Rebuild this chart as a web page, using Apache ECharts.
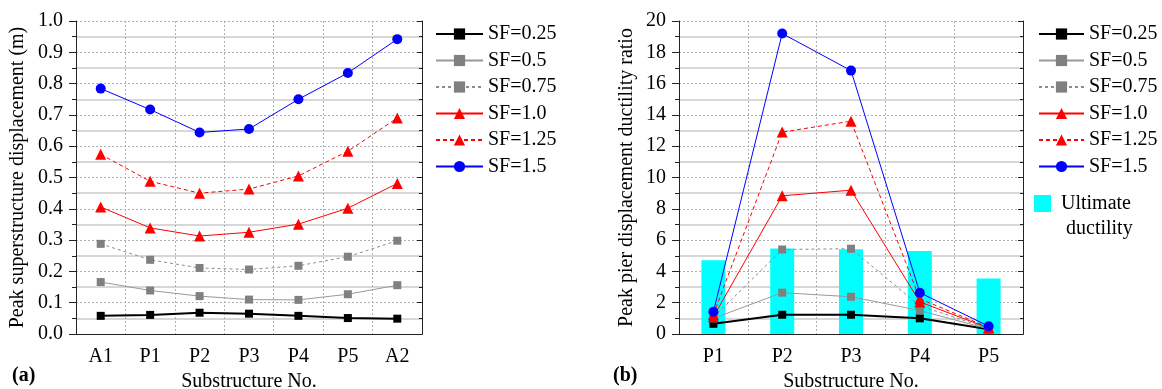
<!DOCTYPE html>
<html>
<head>
<meta charset="utf-8">
<style>
  html, body { margin: 0; padding: 0; background: #fff; }
  #main { width: 1162px; height: 389px; }
</style>
<script src="https://cdn.jsdelivr.net/npm/echarts@6/dist/echarts.min.js"></script>
</head>
<body>
<div id="main"></div>
<script>
// (a) superstructure displacement
var catsA = ['A1', 'P1', 'P2', 'P3', 'P4', 'P5', 'A2'];
var sf025A = [0.058, 0.061, 0.068, 0.065, 0.058, 0.051, 0.049];
var sf05A = [0.166, 0.139, 0.121, 0.110, 0.109, 0.127, 0.156];
var sf075A = [0.288, 0.237, 0.211, 0.206, 0.218, 0.247, 0.298];
var sf10A = [0.406, 0.339, 0.313, 0.325, 0.351, 0.402, 0.481];
var sf125A = [0.574, 0.488, 0.450, 0.463, 0.505, 0.584, 0.690];
var sf15A = [0.784, 0.717, 0.644, 0.655, 0.750, 0.834, 0.942];

// (b) pier ductility ratio
var catsB = ['P1', 'P2', 'P3', 'P4', 'P5'];
var ultimate = [4.72, 5.47, 5.42, 5.30, 3.55];
var sf025B = [0.65, 1.23, 1.23, 1.00, 0.30];
var sf05B = [1.00, 2.64, 2.38, 1.50, 0.32];
var sf075B = [1.05, 5.40, 5.45, 1.80, 0.35];
var sf10B = [1.10, 8.83, 9.19, 2.05, 0.38];
var sf125B = [1.25, 12.90, 13.60, 2.25, 0.42];
var sf15B = [1.42, 19.20, 16.83, 2.64, 0.50];

var names = ['SF=0.25', 'SF=0.5', 'SF=0.75', 'SF=1.0', 'SF=1.25', 'SF=1.5'];

var FONT = '"Liberation Serif", "Times New Roman", serif';
var AXIS = '#222';
var DOT = '#b0b0b0';
var MINOR = '#cacaca';

var chart = echarts.init(document.getElementById('main'));

// line styles for each SF
var styles = [
    { color: '#000', symbol: 'rect', size: 8, type: 'solid', width: 2, lineColor: '#000' },
    { color: '#808080', symbol: 'rect', size: 8, type: 'solid', width: 1, lineColor: '#999' },
    { color: '#808080', symbol: 'rect', size: 8, type: [3, 3], width: 1, lineColor: '#8c8c8c' },
    { color: '#ff0000', symbol: 'triangle', size: 11, type: 'solid', width: 1, lineColor: '#ff0000' },
    { color: '#ff0000', symbol: 'triangle', size: 11, type: [4, 3], width: 1, lineColor: '#ff0000' },
    { color: '#0000ff', symbol: 'circle', size: 10, type: 'solid', width: 1, lineColor: '#0000ff' }
];

function lineSeries(i, data, gi) {
    var s = styles[i];
    return {
        name: names[i],
        type: 'line',
        xAxisIndex: gi * 2,
        yAxisIndex: gi * 2,
        data: data,
        symbol: s.symbol,
        symbolSize: s.size,
        itemStyle: { color: s.color },
        lineStyle: { color: s.lineColor, width: s.width, type: s.type },
        emphasis: { disabled: true },
        z: 3 + i
    };
}

// bottom category axis + top axis that draws dotted lines at each category
function xAxes(cats, gi) {
    return [{
        type: 'category',
        gridIndex: gi,
        data: cats,
        boundaryGap: true,
        axisLine: { lineStyle: { color: AXIS } },
        axisTick: { alignWithLabel: true, length: 7, lineStyle: { color: AXIS } },
        axisLabel: { color: '#000', fontFamily: FONT, fontSize: 20, margin: 13 },
        splitLine: { show: true, lineStyle: { color: DOT, type: [2, 2] } },
        name: 'Substructure No.',
        nameLocation: 'middle',
        nameGap: 37,
        nameTextStyle: { color: '#000', fontFamily: FONT, fontSize: 20 }
    }, {
        type: 'category',
        gridIndex: gi,
        data: cats,
        position: 'top',
        boundaryGap: true,
        axisLine: { lineStyle: { color: AXIS } },
        axisTick: { inside: true, alignWithLabel: true, length: 313, lineStyle: { color: DOT, type: [2, 2] } },
        axisLabel: { show: false },
        splitLine: { show: false }
    }];
}

function yAxes(gi, max, interval, title, gap, fmt) {
    return [{
        type: 'value',
        gridIndex: gi,
        min: 0,
        max: max,
        interval: interval,
        name: title,
        nameLocation: 'middle',
        nameGap: gap,
        nameTextStyle: { color: '#000', fontFamily: FONT, fontSize: 20 },
        axisLine: { show: true, lineStyle: { color: AXIS } },
        axisTick: { show: true, length: 7, lineStyle: { color: AXIS } },
        minorTick: { show: true, splitNumber: 2, length: 4, lineStyle: { color: AXIS } },
        axisLabel: { color: '#000', fontFamily: FONT, fontSize: 20, margin: 13, formatter: fmt },
        splitLine: { show: true, lineStyle: { color: DOT, type: [2, 2] } },
        minorSplitLine: { show: true, lineStyle: { color: MINOR, width: 1.5 } }
    }, {
        type: 'value',
        gridIndex: gi,
        min: 0,
        max: max,
        interval: interval,
        position: 'right',
        axisLine: { show: true, lineStyle: { color: AXIS } },
        axisTick: { show: true, inside: true, length: 5, lineStyle: { color: AXIS } },
        minorTick: { show: true, splitNumber: 2, length: 3, lineStyle: { color: AXIS } },
        axisLabel: { show: false },
        splitLine: { show: false }
    }];
}

var legendText = { color: '#000', fontFamily: FONT, fontSize: 20, lineHeight: 20 };

var series = [];
[sf025A, sf05A, sf075A, sf10A, sf125A, sf15A].forEach(function (d, i) {
    series.push(lineSeries(i, d, 0));
});
series.push({
    name: 'Ultimate ductility',
    type: 'bar',
    xAxisIndex: 2,
    yAxisIndex: 2,
    data: ultimate,
    barWidth: 24,
    itemStyle: { color: '#00ffff' },
    emphasis: { disabled: true },
    z: 2
});
[sf025B, sf05B, sf075B, sf10B, sf125B, sf15B].forEach(function (d, i) {
    series.push(lineSeries(i, d, 1));
});

option = {
    animation: false,
    backgroundColor: '#fff',
    textStyle: { fontFamily: FONT },
    grid: [
        { left: 76, top: 21, width: 346, height: 313, outerBoundsMode: 'none' },
        { left: 679, top: 21, width: 344, height: 313, outerBoundsMode: 'none' }
    ],
    xAxis: xAxes(catsA, 0).concat(xAxes(catsB, 1)),
    yAxis: yAxes(0, 1, 0.1, 'Peak superstructure displacement (m)', 48, function (v) { return v.toFixed(1); })
        .concat(yAxes(1, 20, 2, 'Peak pier displacement ductility ratio', 42, null)),
    legend: [{
        orient: 'vertical',
        left: 435,
        top: 24,
        padding: 0,
        itemWidth: 47,
        itemHeight: 14,
        itemGap: 6.5,
        selectedMode: false,
        textStyle: legendText,
        data: names
    }, {
        orient: 'vertical',
        left: 1038,
        top: 24,
        padding: 0,
        itemWidth: 45,
        itemHeight: 14,
        itemGap: 6.5,
        selectedMode: false,
        textStyle: legendText,
        data: names
    }, {
        orient: 'vertical',
        left: 1034,
        top: 166,
        padding: 0,
        itemWidth: 17,
        itemHeight: 17,
        icon: 'rect',
        selectedMode: false,
        formatter: function () { return ' \nUltimate\n ductility'; },
        textStyle: { color: '#000', fontFamily: FONT, fontSize: 20, lineHeight: 25, padding: [0, 0, 0, 5] },
        data: ['Ultimate ductility']
    }],
    graphic: [
        { type: 'text', left: 12, top: 366, style: { text: '(a)', font: 'bold 20px "Liberation Serif", serif', fill: '#000' } },
        { type: 'text', left: 613, top: 366, style: { text: '(b)', font: 'bold 20px "Liberation Serif", serif', fill: '#000' } }
    ],
    series: series
};

chart.setOption(option);
</script>
</body>
</html>
